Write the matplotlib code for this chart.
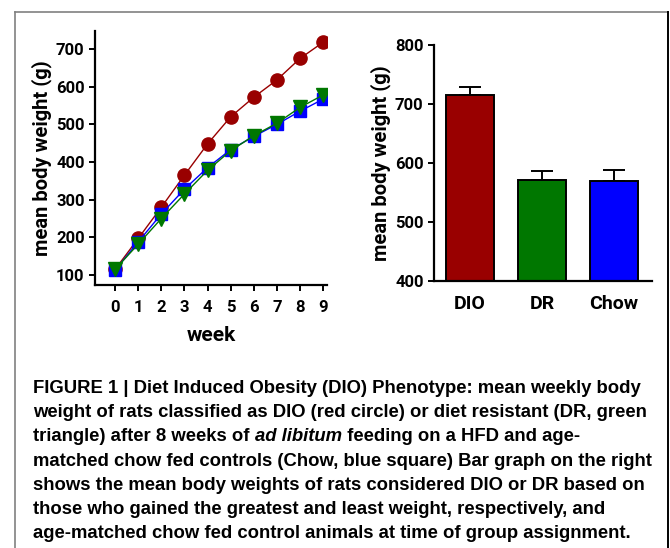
import matplotlib
matplotlib.use("Agg")
import matplotlib.pyplot as plt
from matplotlib.lines import Line2D

plt.rcParams["font.family"] = ["Roboto", "DejaVu Sans"]
plt.rcParams["font.weight"] = "bold"

# ── data ──────────────────────────────────────────────────────────────────────
WEEKS = [0, 1, 2, 3, 4, 5, 6, 7, 8, 9]
DIO_W = [115, 197, 280, 365, 448, 520, 572, 618, 675, 718]
CHOW_W = [113, 188, 262, 328, 385, 433, 468, 500, 535, 567]
DR_W = [115, 182, 250, 315, 378, 430, 470, 503, 545, 578]

GROUPS = ["DIO", "DR", "Chow"]
BAR_MEAN = [716, 571, 570]
BAR_SEM = [13, 16, 18]

RED, GREEN, BLUE = "#990000", "#007700", "#0000ff"
COLS = [RED, GREEN, BLUE]

CAPTION = [
    "FIGURE 1 | Diet Induced Obesity (DIO) Phenotype: mean weekly body",
    "weight of rats classified as DIO (red circle) or diet resistant (DR, green",
    ("triangle) after 8 weeks of ", "ad libitum", " feeding on a HFD and age-"),
    "matched chow fed controls (Chow, blue square) Bar graph on the right",
    "shows the mean body weights of rats considered DIO or DR based on",
    "those who gained the greatest and least weight, respectively, and",
    "age-matched chow fed control animals at time of group assignment.",
]

W, H = 670, 548
fig = plt.figure(figsize=(W / 100, H / 100), dpi=100)


def style(ax):
    for s in ("top", "right"):
        ax.spines[s].set_visible(False)
    for s in ("left", "bottom"):
        ax.spines[s].set_linewidth(1.6)
    ax.tick_params(width=1.4, length=4, labelsize=12)
    for lab in ax.get_xticklabels() + ax.get_yticklabels():
        lab.set_fontweight("bold")


# ── left: weekly body weight ─────────────────────────────────────────────────
ax1 = fig.add_axes([95 / W, 1 - 285 / H, 232 / W, 254 / H])
ax1.plot(WEEKS, DIO_W, color=RED, lw=1.0, marker="o", ms=9.5, zorder=3)
ax1.plot(WEEKS, CHOW_W, color=BLUE, lw=1.0, marker="s", ms=8.5, zorder=4)
ax1.plot(WEEKS, DR_W, color=GREEN, lw=1.0, marker="v", ms=9.5, zorder=5)
ax1.set_xlim(-0.87, 9.17)
ax1.set_ylim(73.5, 748)
ax1.set_xticks(WEEKS)
ax1.set_yticks(range(100, 701, 100))
ax1.set_ylabel("mean body weight (g)", fontsize=14.5, fontweight="bold", labelpad=3)
ax1.set_xlabel("week", fontsize=15, fontweight="bold", labelpad=8)
style(ax1)
ax1.tick_params(axis="x", pad=7)

# ── right: bar graph ─────────────────────────────────────────────────────────
ax2 = fig.add_axes([434 / W, 1 - 281 / H, 218 / W, 236 / H])
xb = range(len(GROUPS))
ax2.bar(xb, BAR_MEAN, width=0.67, color=COLS, edgecolor="black", lw=1.4, zorder=2)
ax2.errorbar(xb, BAR_MEAN, yerr=[[0] * 3, BAR_SEM], fmt="none", ecolor="black",
             elinewidth=1.4, capsize=8, capthick=1.4, zorder=1)
ax2.set_xlim(-0.5, 2.53)
ax2.set_ylim(400, 800)
ax2.set_yticks(range(400, 801, 100))
ax2.set_xticks(list(xb))
ax2.set_xticklabels(GROUPS)
ax2.set_ylabel("mean body weight (g)", fontsize=14.5, fontweight="bold", labelpad=3)
style(ax2)
ax2.tick_params(axis="x", length=0, labelsize=14, pad=10)
for lab in ax2.get_xticklabels():
    lab.set_fontweight("bold")

# ── frame ────────────────────────────────────────────────────────────────────
fig.add_artist(Line2D([15 / W, 668 / W], [1 - 12 / H, 1 - 12 / H], color="#808080", lw=1.2))
fig.add_artist(Line2D([15 / W, 15 / W], [0, 1 - 12 / H], color="#808080", lw=1.2))
fig.add_artist(Line2D([668 / W, 668 / W], [0, 1 - 12 / H], color="black", lw=1.4))

# ── caption: size picked so the widest line spans x = 33..652 px ─────────────
CAP_FONT = ["Liberation Sans", "DejaVu Sans"]
renderer = fig.canvas.get_renderer()
probe = fig.text(0, 0, CAPTION[3], family=CAP_FONT, fontsize=10, fontweight="bold")
CAP_SIZE = 10 * 619 / probe.get_window_extent(renderer).width
probe.remove()

for i, line in enumerate(CAPTION):
    y = 1 - (393 + 24.2 * i) / H
    parts = line if isinstance(line, tuple) else (line,)
    prev = fig.text(33 / W, y, parts[0], family=CAP_FONT, fontsize=CAP_SIZE,
                    fontweight="bold", va="baseline")
    for j, part in enumerate(parts[1:]):
        prev = fig.add_artist(plt.Annotation(
            part, xy=(1, 0), xycoords=prev, va="bottom", ha="left",
            family=CAP_FONT, fontsize=CAP_SIZE, fontweight="bold",
            fontstyle="italic" if j == 0 else "normal"))

fig.savefig("out.png", dpi=100)
